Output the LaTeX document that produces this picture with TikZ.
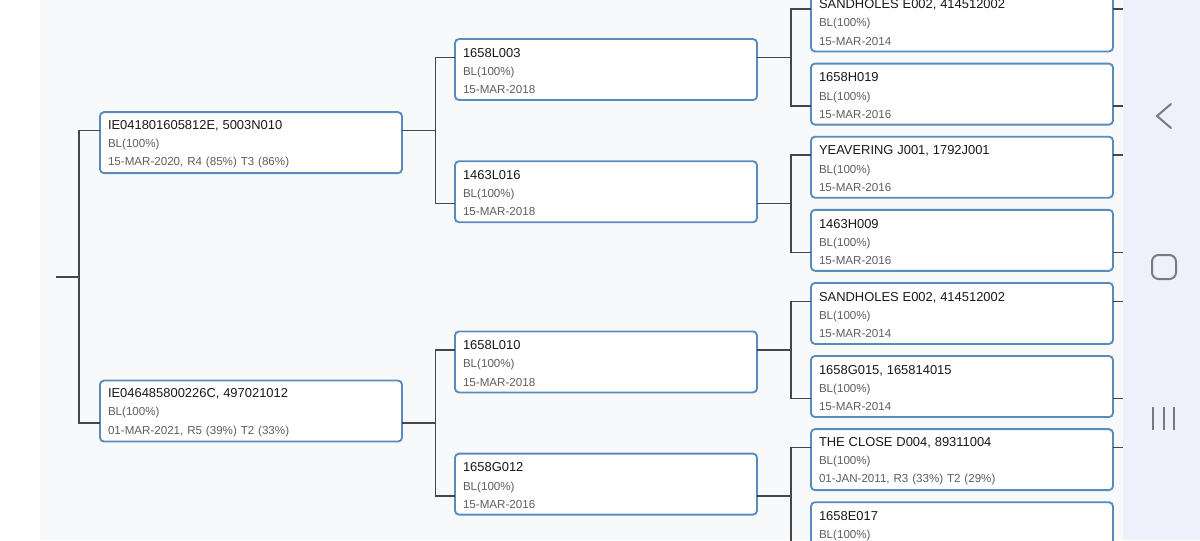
\documentclass[tikz,border=0pt]{standalone}
\usepackage{fontspec}
\setmainfont{Liberation Sans}
\usetikzlibrary{positioning,calc}
\definecolor{pane}{RGB}{247,249,251}
\definecolor{navbar}{RGB}{238,241,252}
\definecolor{frame}{RGB}{88,140,190}
\definecolor{ink}{RGB}{25,25,25}
\definecolor{muted}{RGB}{95,95,95}
\definecolor{wire}{RGB}{70,70,70}
\definecolor{navicon}{RGB}{120,122,128}
\newcommand{\cardhead}[1]{{\color{ink}\fontsize{9.7}{13.7}\selectfont\rule{0pt}{9pt}#1}}
\tikzset{
  card/.style={draw=frame,fill=white,line width=1.4pt,rounded corners=3pt,anchor=north west,outer sep=0pt,
    minimum height=45.75pt,text width=214.5pt,inner xsep=6pt,inner ysep=0pt,align=left,
    font=\fontsize{8.7}{13.7}\selectfont,text=muted},
  link/.style={draw=wire,line width=1.1pt},
  nav/.style={draw=navicon,line width=1.5pt,line cap=round,line join=round}
}
\begin{document}
\begin{tikzpicture}[x=0.75pt,y=-0.75pt,node distance=9.08pt]
\useasboundingbox (0,0) rectangle (1200,540);
\clip (0,0) rectangle (1200,540);
% backdrop and side bar
\fill[white] (0,0) rectangle (40,540);
\fill[pane] (40,0) rectangle (1123,540);
\fill[navbar] (1123,0) rectangle (1200,540);
% generation 1
\node[card] (g1a) at (100,112.15) {\cardhead{IE041801605812E, 5003N010}\\BL(100\%)\\15-MAR-2020, R4 (85\%) T3 (86\%)};
\node[card] (g1b) at (100,380.55) {\cardhead{IE046485800226C, 497021012}\\BL(100\%)\\01-MAR-2021, R5 (39\%) T2 (33\%)};
% generation 2
\node[card] (g2a) at (455,39.05) {\cardhead{1658L003}\\BL(100\%)\\15-MAR-2018};
\node[card] (g2b) at (455,161.25) {\cardhead{1463L016}\\BL(100\%)\\15-MAR-2018};
\node[card] (g2c) at (455,331.45) {\cardhead{1658L010}\\BL(100\%)\\15-MAR-2018};
\node[card] (g2d) at (455,453.65) {\cardhead{1658G012}\\BL(100\%)\\15-MAR-2016};
% generation 3
\node[card] (g3a) at (811,-9.5) {\cardhead{SANDHOLES E002, 414512002}\\BL(100\%)\\15-MAR-2014};
\node[card,below=of g3a] (g3b) {\cardhead{1658H019}\\BL(100\%)\\15-MAR-2016};
\node[card,below=of g3b] (g3c) {\cardhead{YEAVERING J001, 1792J001}\\BL(100\%)\\15-MAR-2016};
\node[card,below=of g3c] (g3d) {\cardhead{1463H009}\\BL(100\%)\\15-MAR-2016};
\node[card,below=of g3d] (g3e) {\cardhead{SANDHOLES E002, 414512002}\\BL(100\%)\\15-MAR-2014};
\node[card,below=of g3e] (g3f) {\cardhead{1658G015, 165814015}\\BL(100\%)\\15-MAR-2014};
\node[card,below=of g3f] (g3g) {\cardhead{THE CLOSE D004, 89311004}\\BL(100\%)\\01-JAN-2011, R3 (33\%) T2 (29\%)};
\node[card,below=of g3g] (g3h) {\cardhead{1658E017}\\BL(100\%)\\\mbox{}};
% hook points: upper child near top, lower child near bottom
\foreach \n in {g1a,g2a,g2c,g3a,g3c,g3e,g3g} {
  \coordinate (\n-in) at ([yshift=-13.875pt]\n.north west);
  \coordinate (\n-out) at ([yshift=-13.875pt]\n.north east);
}
\foreach \n in {g1b,g2b,g2d,g3b,g3d,g3f,g3h} {
  \coordinate (\n-in) at ([yshift=13.875pt]\n.south west);
  \coordinate (\n-out) at ([yshift=13.875pt]\n.south east);
}
\coordinate (root-out) at ($(g1a-in)!.5!(g1b-in)+(-44,0)$);
\coordinate (k1) at (79,0);
\coordinate (k2) at (435.5,0);
\coordinate (k3) at (791,0);
\coordinate (edge) at (1123,0);
% brackets
\foreach \p/\a/\b/\k in {root/g1a/g1b/k1,g1a/g2a/g2b/k2,g1b/g2c/g2d/k2,g2a/g3a/g3b/k3,g2b/g3c/g3d/k3,g2c/g3e/g3f/k3,g2d/g3g/g3h/k3} {
  \draw[link] (\p-out) -- (\p-out -| \k);
  \draw[link] (\a-in) -- (\a-in -| \k) -- (\b-in -| \k) -- (\b-in);
}
\foreach \n in {g3a,g3b,g3c,g3d,g3e,g3f,g3g,g3h} \draw[link] (\n-out) -- (\n-out -| edge);
% navigation keys
\draw[nav] (1171,104) -- (1157,116) -- (1171,128);
\draw[nav,rounded corners=5pt] (1152,255) rectangle (1176,279);
\foreach \x in {1153,1164,1174} \draw[nav,line cap=butt] (\x,407) -- (\x,430);
\end{tikzpicture}
\end{document}
